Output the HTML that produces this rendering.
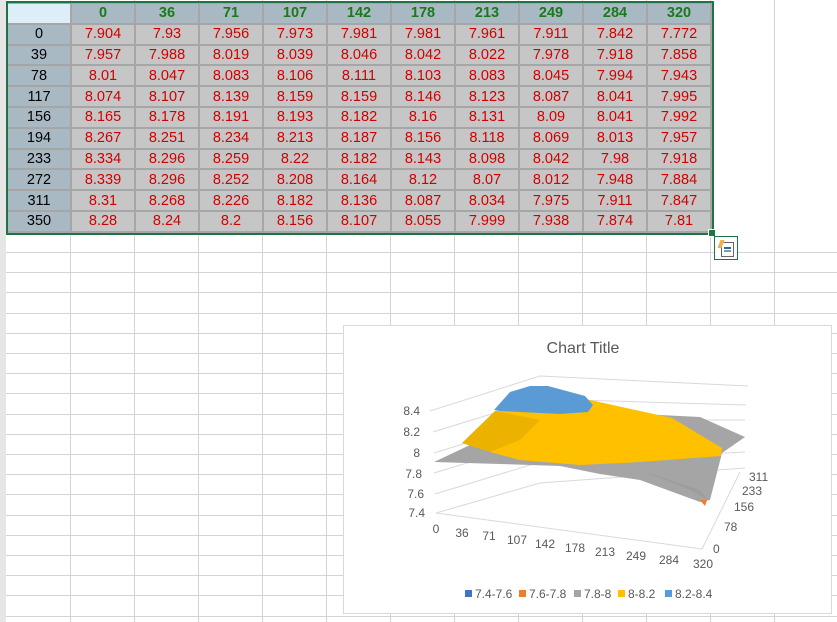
<!DOCTYPE html>
<html><head><meta charset="utf-8"><style>
body{margin:0;width:837px;height:622px;overflow:hidden;background:#fff;font-family:"Liberation Sans",Arial,sans-serif;position:relative}
.grid{position:absolute;left:0;top:0}
table{position:absolute;left:6px;top:2px;border-collapse:collapse;font-size:14.5px}
td{width:62px;height:18.8px;padding:0;text-align:center;border:2px solid #a6a6a6;background:#c6c6c6;color:#d00000}
td.h{background:#a9b9c3;color:#000}
tr.top td{background:#a9b9c3;color:#1a7a1a;font-weight:bold}
tr.top td.c{background:#ddeef8}
.sel{position:absolute;left:6px;top:1px;width:704px;height:230px;border:2px solid #217346}
</style></head><body>
<svg class="grid" width="837" height="622">
<g stroke="#d4d4d4" stroke-width="1">
<line x1="70.5" y1="0" x2="70.5" y2="622"/><line x1="134.5" y1="0" x2="134.5" y2="622"/><line x1="198.5" y1="0" x2="198.5" y2="622"/><line x1="262.5" y1="0" x2="262.5" y2="622"/><line x1="326.5" y1="0" x2="326.5" y2="622"/><line x1="390.5" y1="0" x2="390.5" y2="622"/><line x1="454.5" y1="0" x2="454.5" y2="622"/><line x1="518.5" y1="0" x2="518.5" y2="622"/><line x1="582.5" y1="0" x2="582.5" y2="622"/><line x1="646.5" y1="0" x2="646.5" y2="622"/><line x1="710.5" y1="0" x2="710.5" y2="622"/><line x1="774.5" y1="0" x2="774.5" y2="622"/>
<line x1="0" y1="252.5" x2="837" y2="252.5"/><line x1="0" y1="272.5" x2="837" y2="272.5"/><line x1="0" y1="292.5" x2="837" y2="292.5"/><line x1="0" y1="313.5" x2="837" y2="313.5"/><line x1="0" y1="333.5" x2="837" y2="333.5"/><line x1="0" y1="353.5" x2="837" y2="353.5"/><line x1="0" y1="373.5" x2="837" y2="373.5"/><line x1="0" y1="393.5" x2="837" y2="393.5"/><line x1="0" y1="414.5" x2="837" y2="414.5"/><line x1="0" y1="434.5" x2="837" y2="434.5"/><line x1="0" y1="454.5" x2="837" y2="454.5"/><line x1="0" y1="474.5" x2="837" y2="474.5"/><line x1="0" y1="494.5" x2="837" y2="494.5"/><line x1="0" y1="515.5" x2="837" y2="515.5"/><line x1="0" y1="535.5" x2="837" y2="535.5"/><line x1="0" y1="555.5" x2="837" y2="555.5"/><line x1="0" y1="575.5" x2="837" y2="575.5"/><line x1="0" y1="595.5" x2="837" y2="595.5"/><line x1="0" y1="616.5" x2="837" y2="616.5"/>
</g>
<rect x="0" y="0" width="6" height="622" fill="#e6e6e6"/>
</svg>
<table>
<tr class="top"><td class="c"></td><td>0</td><td>36</td><td>71</td><td>107</td><td>142</td><td>178</td><td>213</td><td>249</td><td>284</td><td>320</td></tr>
<tr><td class="h">0</td><td>7.904</td><td>7.93</td><td>7.956</td><td>7.973</td><td>7.981</td><td>7.981</td><td>7.961</td><td>7.911</td><td>7.842</td><td>7.772</td></tr>
<tr><td class="h">39</td><td>7.957</td><td>7.988</td><td>8.019</td><td>8.039</td><td>8.046</td><td>8.042</td><td>8.022</td><td>7.978</td><td>7.918</td><td>7.858</td></tr>
<tr><td class="h">78</td><td>8.01</td><td>8.047</td><td>8.083</td><td>8.106</td><td>8.111</td><td>8.103</td><td>8.083</td><td>8.045</td><td>7.994</td><td>7.943</td></tr>
<tr><td class="h">117</td><td>8.074</td><td>8.107</td><td>8.139</td><td>8.159</td><td>8.159</td><td>8.146</td><td>8.123</td><td>8.087</td><td>8.041</td><td>7.995</td></tr>
<tr><td class="h">156</td><td>8.165</td><td>8.178</td><td>8.191</td><td>8.193</td><td>8.182</td><td>8.16</td><td>8.131</td><td>8.09</td><td>8.041</td><td>7.992</td></tr>
<tr><td class="h">194</td><td>8.267</td><td>8.251</td><td>8.234</td><td>8.213</td><td>8.187</td><td>8.156</td><td>8.118</td><td>8.069</td><td>8.013</td><td>7.957</td></tr>
<tr><td class="h">233</td><td>8.334</td><td>8.296</td><td>8.259</td><td>8.22</td><td>8.182</td><td>8.143</td><td>8.098</td><td>8.042</td><td>7.98</td><td>7.918</td></tr>
<tr><td class="h">272</td><td>8.339</td><td>8.296</td><td>8.252</td><td>8.208</td><td>8.164</td><td>8.12</td><td>8.07</td><td>8.012</td><td>7.948</td><td>7.884</td></tr>
<tr><td class="h">311</td><td>8.31</td><td>8.268</td><td>8.226</td><td>8.182</td><td>8.136</td><td>8.087</td><td>8.034</td><td>7.975</td><td>7.911</td><td>7.847</td></tr>
<tr><td class="h">350</td><td>8.28</td><td>8.24</td><td>8.2</td><td>8.156</td><td>8.107</td><td>8.055</td><td>7.999</td><td>7.938</td><td>7.874</td><td>7.81</td></tr>
</table>
<div class="sel"></div>
<div style="position:absolute;left:708px;top:229px;width:6px;height:6px;background:#217346;border:1px solid #fff"></div>
<div style="position:absolute;left:714px;top:236px;width:22px;height:22px;border:1px solid #217346;background:#fff">
<div style="position:absolute;left:6px;top:5px;width:11px;height:13px;border:1px solid #666;background:#fff"></div>
<div style="position:absolute;left:9px;top:10px;width:7px;height:2px;background:#3465a4"></div>
<div style="position:absolute;left:9px;top:13px;width:7px;height:2px;background:#6a9"></div>
<div style="position:absolute;left:4px;top:3px;width:4px;height:8px;background:#f0b050;transform:skewX(-20deg)"></div>
</div>
<svg style="position:absolute;left:0;top:0" width="837" height="622">
<rect x="343.5" y="325.5" width="488" height="288" fill="#fff" stroke="#d9d9d9"/>
<text x="583" y="353" font-size="16" fill="#595959" text-anchor="middle">Chart Title</text>
<g stroke="#d9d9d9" fill="none">
<polyline points="430,411 540,376 748,386"/>
<polyline points="433,432 540,399 746,405"/>
<polyline points="434,453 540,420 745,420"/>
<polyline points="434,473 540,441 745,437"/>
<polyline points="435,494 540,462 745,452"/>
<polyline points="436,513 540,483 745,468"/>
<line x1="436" y1="513" x2="702" y2="549"/>
<line x1="702" y1="549" x2="740" y2="472"/>
</g>
<g fill="#595959" font-size="12">
<text x="420" y="415" text-anchor="end">8.4</text><text x="420" y="436" text-anchor="end">8.2</text><text x="420" y="457" text-anchor="end">8</text><text x="422" y="478" text-anchor="end">7.8</text><text x="424" y="498" text-anchor="end">7.6</text><text x="425" y="517" text-anchor="end">7.4</text>
<text x="436" y="533" text-anchor="middle">0</text><text x="462" y="537" text-anchor="middle">36</text><text x="489" y="540" text-anchor="middle">71</text><text x="517" y="544" text-anchor="middle">107</text><text x="545" y="548" text-anchor="middle">142</text><text x="575" y="552" text-anchor="middle">178</text><text x="605" y="556" text-anchor="middle">213</text><text x="636" y="560" text-anchor="middle">249</text><text x="669" y="564" text-anchor="middle">284</text><text x="703" y="568" text-anchor="middle">320</text>
<text x="713" y="553">0</text><text x="724" y="531">78</text><text x="734" y="511">156</text><text x="742" y="495">233</text><text x="749" y="481">311</text>
</g>
<polygon points="434,462 470,445 540,420 640,414 700,417 745,437 722,453 710,500 700,502 640,480 600,474 560,466 500,464" fill="#a5a5a5"/>
<polygon points="640,470 700,490 708,500 690,490" fill="#969696" opacity=".5"/>
<polygon points="700,500 707,500 705,506" fill="#ed7d31"/>
<polygon points="462,443 495,411 590,400 672,418 722,448 721,456 640,462 580,465 520,460 490,452" fill="#ffc000"/>
<polygon points="462,443 495,411 540,420 520,440 490,452" fill="#e0a800" opacity=".6"/>
<polygon points="494,410 510,392 530,386 548,386 585,396 593,405 588,412 560,414 500,411" fill="#5b9bd5"/>
<g font-size="12" fill="#595959">
<rect x="465" y="590" width="7" height="7" fill="#4472c4"/><text x="475" y="598">7.4-7.6</text>
<rect x="519" y="590" width="7" height="7" fill="#ed7d31"/><text x="529" y="598">7.6-7.8</text>
<rect x="574" y="590" width="7" height="7" fill="#a5a5a5"/><text x="584" y="598">7.8-8</text>
<rect x="618" y="590" width="7" height="7" fill="#ffc000"/><text x="628" y="598">8-8.2</text>
<rect x="665" y="590" width="7" height="7" fill="#5b9bd5"/><text x="675" y="598">8.2-8.4</text>
</g>
</svg>
</body></html>
